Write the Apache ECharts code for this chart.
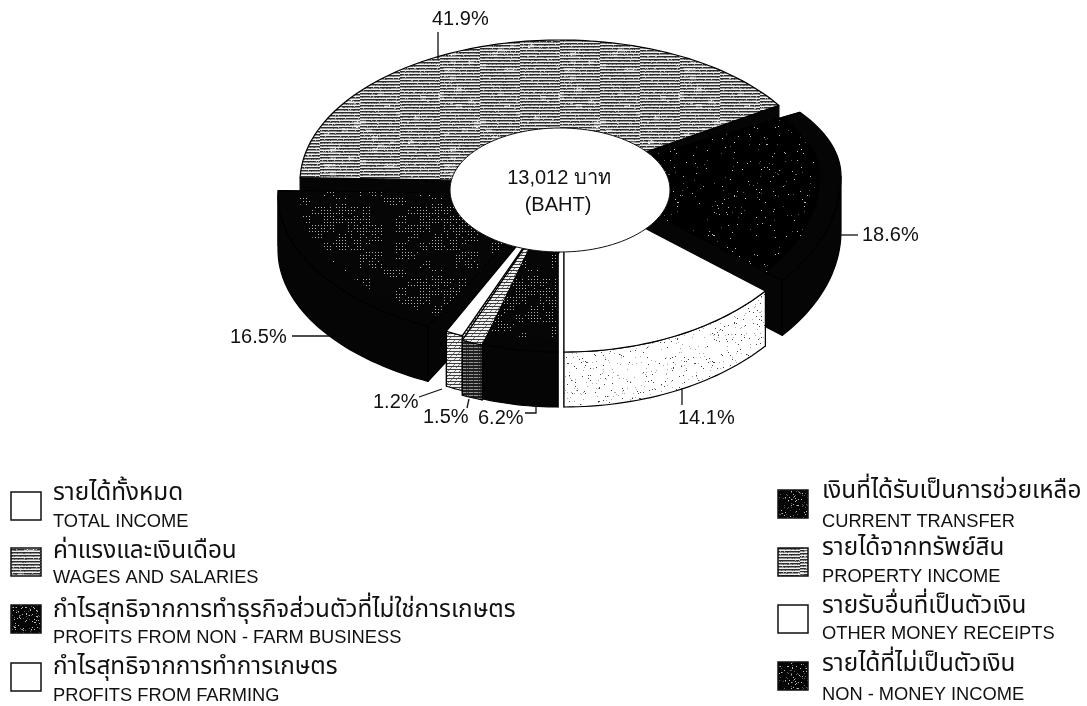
<!DOCTYPE html>
<html><head><meta charset="utf-8">
<style>html,body{margin:0;padding:0;background:#fff}#c{width:1087px;height:706px}</style>
<script src="https://cdn.jsdelivr.net/npm/echarts@6/dist/echarts.min.js"></script>
</head><body><div id="c"></div>
<script>
// ---- data (anticlockwise from straight down on the picture) ----
var sliceNames  = ['PROFITS FROM FARMING','NON - MONEY INCOME','WAGES AND SALARIES','PROFITS FROM NON - FARM BUSINESS','OTHER MONEY RECEIPTS','PROPERTY INCOME','CURRENT TRANSFER'];
var sliceValues = [14.1,18.6,41.9,16.5,1.2,1.5,6.2];
var centerLine1 = '13,012 บาท';
var centerLine2 = '(BAHT)';
var legendThaiLeft  = ['รายได้ทั้งหมด','ค่าแรงและเงินเดือน','กำไรสุทธิจากการทำธุรกิจส่วนตัวที่ไม่ใช่การเกษตร','กำไรสุทธิจากการทำการเกษตร'];
var legendEngLeft   = ['TOTAL INCOME','WAGES AND SALARIES','PROFITS FROM NON - FARM BUSINESS','PROFITS FROM FARMING'];
var legendThaiRight = ['เงินที่ได้รับเป็นการช่วยเหลือ','รายได้จากทรัพย์สิน','รายรับอื่นที่เป็นตัวเงิน','รายได้ที่ไม่เป็นตัวเงิน'];
var legendEngRight  = ['CURRENT TRANSFER','PROPERTY INCOME','OTHER MONEY RECEIPTS','NON - MONEY INCOME'];

// ---- textures (print-screen look only, no data in them) ----
function hash(x,y){var s=Math.sin(x*12.9898+y*78.233)*43758.5453;return s-Math.floor(s);}
function tex(w,h,fn){var c=document.createElement('canvas');c.width=w;c.height=h;var g=c.getContext('2d');var d=g.createImageData(w,h);
  for(var y=0;y<h;y++)for(var x=0;x<w;x++){var v=fn(x,y),i=(y*w+x)*4;d.data[i]=d.data[i+1]=d.data[i+2]=v;d.data[i+3]=255;}
  g.putImageData(d,0,0);return {image:c,repeat:'repeat'};}
var T={
  white:'#ffffff',
  black:'#050505',
  stripes:tex(120,96,function(x,y){var r=(y+((x/40)|0))%3,m=hash((x/6)|0,(y/4)|0)>.94?60:0;if(r===0)return Math.min(255,(hash(x,y)>.93?170:45)+m);if(r===1)return Math.min(255,(hash(x+3,y)>.8?90:150)+m);return 240;}),
  stripesDark:tex(12,12,function(x,y){var r=y%3;if(r===2)return x%5===0?70:150;return 30;}),
  stripesLight:tex(12,12,function(x,y){return y%3===0?60:((x+y)%7===0?120:240);}),
  dots:tex(61,61,function(x,y){var h=hash(x,y);return h>.95?190:(h>.9?90:5);}),
  sparse:tex(127,127,function(x,y){var h=hash(x,y);return h>.993?190:(h>.988?90:0);}),
  mesh:tex(96,72,function(x,y){var b=hash((x/12)|0,(y/9)|0)>.35;return (b&&x%3===0&&y%3===0&&hash(x,y)>.3)?180:6;}),
  speck:tex(127,127,function(x,y){var h=hash(x,y);return h>.985?70:(h>.965?170:255);})
};

// ---- per-slice look: where each exploded piece sits and how it is filled ----
var sliceLook=[
 {ax:564,ay:186,rx:260,f:166,b:142,top:T.white,side:T.speck},
 {ax:581,ay:176,rx:260,f:165,b:118,top:T.black,inner:T.sparse,side:T.black},
 {ax:560,ay:182,rx:260,f:142,b:142,top:T.stripes,side:T.black},
 {ax:550,ay:195,rx:272,f:147,b:142,top:T.black,inner:T.mesh,side:T.black},
 {ax:563,ay:190,rx:260,f:158,b:142,top:T.white,side:T.stripesLight},
 {ax:563,ay:190,rx:260,f:163,b:142,top:T.stripesLight,side:T.stripesDark},
 {ax:558,ay:190,rx:241,f:162,b:142,top:T.black,inner:T.mesh,side:T.black}
];
var paintOrder=[2,1,3,4,5,6,0];
var depth=55, innerScale=0.92;
var total=sliceValues.reduce(function(a,b){return a+b;},0);
var starts=[];(function(){var s=0;sliceValues.forEach(function(v){starts.push(s);s+=v;});})();

function view(phi){ // viewing correction of the drawn angle
  if(phi>0&&phi<90)return phi;
  return phi-6*Math.sin(phi*Math.PI/90);
}
function pt(l,phi,k){var a=view(phi)*Math.PI/180,c=Math.cos(a);k=k||1;return [l.ax+k*l.rx*Math.sin(a),l.ay+k*(c>0?l.f:l.b)*c];}
function down(p){return [p[0],p[1]+depth];}
function poly(points,fill,noStroke){return {type:'polygon',shape:{points:points},style:{fill:fill,stroke:noStroke?null:'#000',lineWidth:1.2,lineJoin:'round'}};}
function arcPts(l,from,to,k){var out=[],n=Math.max(6,Math.ceil((to-from)/1.5));for(var j=0;j<=n;j++)out.push(pt(l,from+(to-from)*j/n,k));return out;}

function renderItem(params,api){
  var i=api.value(0),l=sliceLook[i];
  var p0=starts[i]/total*360,p1=(starts[i]+sliceValues[i])/total*360;
  var arc=arcPts(l,p0,p1);
  var apex=[l.ax,l.ay],a0=arc[0],a1=arc[arc.length-1];
  var kids=[
    poly([apex,a0,down(a0),down(apex)],l.side),
    poly([apex,a1,down(a1),down(apex)],l.side)
  ];
  // outer wall: only the part of the rim that faces the viewer
  var from=null,to=null;
  if(p0<90){from=p0;to=Math.min(p1,90);}
  else if(p1>270){from=Math.max(p0,270);to=p1;}
  if(from!==null){var w=arcPts(l,from,to);kids.push(poly(w.concat(w.map(down).reverse()),l.side));}
  kids.push(poly([apex].concat(arc),l.top));
  if(l.inner)kids.push(poly([apex].concat(arcPts(l,p0,p1,innerScale)),l.inner,true));
  return {type:'group',children:kids};
}

// ---- annotations ----
var txtFont='"Liberation Sans",Arimo,Arial,sans-serif';
var thaiFont='"Noto Sans Thai","Noto Sans","Liberation Sans",sans-serif';
var g=[];
function text(s,x,y,size,align,fam){g.push({type:'text',z:50,x:x,y:y,style:{text:s,x:0,y:0,fill:'#111',font:size+'px '+(fam||txtFont),textAlign:align||'left',textVerticalAlign:'middle'}});}
function line(pts){g.push({type:'polyline',z:50,shape:{points:pts},style:{stroke:'#111',lineWidth:1.3,fill:null}});}
g.push({type:'ellipse',z:40,shape:{cx:560,cy:190,rx:110,ry:62},style:{fill:'#fff',stroke:'#111',lineWidth:1}});
text(centerLine1,559,178,20,'center',txtFont+',"Noto Sans"');
text(centerLine2,558,205,20,'center');

var labelPos=[[678,418],[862,235],[432,19],[230,337],[373,402],[423,417],[478,418]];
sliceValues.forEach(function(v,i){text(v.toFixed(1)+'%',labelPos[i][0],labelPos[i][1],20);});
line([[438,32],[438,59]]);
line([[841,235],[858,235]]);
line([[682,388],[682,405]]);
line([[292,336],[330,336]]);
line([[419,397],[442,389]]);
line([[467,408],[469,399]]);
line([[525,413],[536,413],[536,405]]);

var rowsL=[{sy:492,ty:495,ey:522},{sy:548,ty:553,ey:578},{sy:605,ty:612,ey:638},{sy:663,ty:669,ey:696}];
var rowsR=[{sy:490,ty:493,ey:522},{sy:548,ty:550,ey:577},{sy:605,ty:608,ey:634},{sy:662,ty:666,ey:695}];
var fillL=[T.white,T.stripes,T.dots,T.white],fillR=[T.dots,T.stripes,T.white,T.dots];
function legend(rows,fills,thai,eng,sx,tx){rows.forEach(function(r,i){
  g.push({type:'rect',z:50,shape:{x:sx,y:r.sy,width:30,height:28},style:{fill:fills[i],stroke:'#111',lineWidth:1.5}});
  text(thai[i],tx,r.ty,24.3,'left',thaiFont);
  text(eng[i],tx,r.ey,18.3);
});}
legend(rowsL,fillL,legendThaiLeft,legendEngLeft,11,53);
legend(rowsR,fillR,legendThaiRight,legendEngRight,778,822);

var chart=echarts.init(document.getElementById('c'),null,{renderer:'canvas'});
chart.setOption({
  animation:false,backgroundColor:'#fff',
  series:[{type:'custom',coordinateSystem:'none',silent:true,clip:false,renderItem:renderItem,
    dimensions:['slice','value'],encode:{value:1},
    data:paintOrder.map(function(i){return {name:sliceNames[i],value:[i,sliceValues[i]]};})}],
  graphic:{elements:g}
});
</script></body></html>
